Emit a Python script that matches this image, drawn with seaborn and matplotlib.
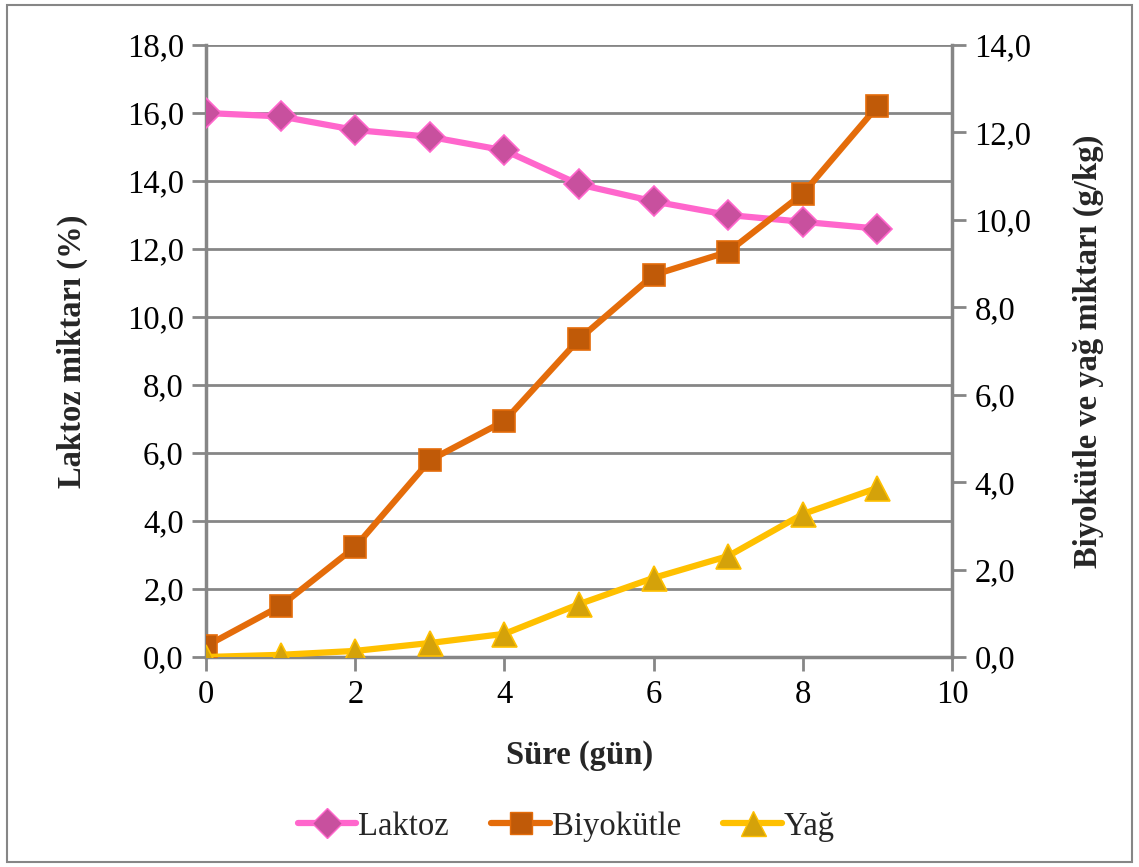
import matplotlib
matplotlib.use("Agg")
import matplotlib.pyplot as plt
import seaborn as sns
import pandas as pd
from matplotlib.ticker import FuncFormatter, MultipleLocator
from matplotlib.patches import Rectangle
from matplotlib.lines import Line2D

days = [0, 1, 2, 3, 4, 5, 6, 7, 8, 9]
laktoz = [16.0, 15.9, 15.5, 15.3, 14.9, 13.9, 13.4, 13.0, 12.8, 12.6]
biyokutle = [0.25, 1.17, 2.52, 4.5, 5.4, 7.27, 8.74, 9.27, 10.6, 12.6]
yag = [0.0, 0.05, 0.14, 0.32, 0.53, 1.21, 1.81, 2.31, 3.27, 3.87]

sns.set_theme(style="white")
plt.rcParams['font.family'] = 'serif'
plt.rcParams['font.serif'] = ['Liberation Serif', 'DejaVu Serif']

FONT = 'Liberation Serif'
FS = 23.5
GRAY = '#868686'
c_lak, c_lak_m = '#FF66CC', '#C8509E'
c_bio, c_bio_m = '#E46C0A', '#C05A08'
c_yag, c_yag_m = '#FFC000', '#D4A20A'

fig = plt.figure(figsize=(11.39, 8.67), dpi=100)
ax = fig.add_axes([0.1809, 0.2422, 0.6550, 0.7059])
ax2 = ax.twinx()

df = pd.DataFrame({'day': days, 'laktoz': laktoz, 'bio': biyokutle, 'yag': yag})

sns.lineplot(data=df, x='day', y='laktoz', ax=ax, color=c_lak, lw=4.5,
             marker='D', markersize=15, markerfacecolor=c_lak_m,
             markeredgecolor=c_lak, markeredgewidth=1.2, zorder=3)
sns.lineplot(data=df, x='day', y='bio', ax=ax2, color=c_bio, lw=4.5,
             marker='s', markersize=16, markerfacecolor=c_bio_m,
             markeredgecolor=c_bio, markeredgewidth=1.2, zorder=3)
sns.lineplot(data=df, x='day', y='yag', ax=ax2, color=c_yag, lw=4.5,
             marker='^', markersize=18, markerfacecolor=c_yag_m,
             markeredgecolor=c_yag, markeredgewidth=1.2, zorder=3)

fmt = FuncFormatter(lambda v, p: f"{v:.1f}".replace('.', ','))
ax.set_xlim(0, 10)
ax.set_ylim(0, 18)
ax2.set_ylim(0, 14)
ax.xaxis.set_major_locator(MultipleLocator(2))
ax.yaxis.set_major_locator(MultipleLocator(2))
ax2.yaxis.set_major_locator(MultipleLocator(2))
ax.yaxis.set_major_formatter(fmt)
ax2.yaxis.set_major_formatter(fmt)
ax.xaxis.set_major_formatter(FuncFormatter(lambda v, p: f"{int(v)}"))

ax.grid(axis='y', color=GRAY, lw=2)
ax.set_axisbelow(True)
ax2.grid(False)

for a in (ax, ax2):
    for s in a.spines.values():
        s.set_visible(False)
ax.spines['left'].set_visible(True)
ax.spines['bottom'].set_visible(True)
ax2.spines['right'].set_visible(True)
for s in (ax.spines['left'], ax.spines['bottom'], ax2.spines['right']):
    s.set_color(GRAY)
    s.set_linewidth(2.5)

ax.tick_params(axis='both', direction='out', length=10, width=2, color=GRAY,
               labelsize=FS, labelcolor='black', left=True, bottom=True, pad=6)
ax2.tick_params(axis='y', direction='out', length=10, width=2, color=GRAY,
                labelsize=FS, labelcolor='black', right=True, pad=6)
for lab in ax.get_xticklabels() + ax.get_yticklabels() + ax2.get_yticklabels():
    lab.set_fontfamily(FONT)

ax.set_xlabel('Süre (gün)', fontsize=FS, fontweight='bold', labelpad=22, fontfamily=FONT)
ax.set_ylabel('Laktoz miktarı (%)', fontsize=FS, fontweight='bold', labelpad=28, fontfamily=FONT)
ax2.set_ylabel('Biyokütle ve yağ miktarı (g/kg)', fontsize=FS, fontweight='bold',
               labelpad=30, fontfamily=FONT)

handles = [
    Line2D([], [], color=c_lak, lw=4.5, marker='D', markersize=15,
           markerfacecolor=c_lak_m, markeredgecolor=c_lak),
    Line2D([], [], color=c_bio, lw=4.5, marker='s', markersize=16,
           markerfacecolor=c_bio_m, markeredgecolor=c_bio),
    Line2D([], [], color=c_yag, lw=4.5, marker='^', markersize=18,
           markerfacecolor=c_yag_m, markeredgecolor=c_yag),
]
fig.legend(handles, ['Laktoz', 'Biyokütle', 'Yağ'], loc='center',
           bbox_to_anchor=(0.497, 0.047), ncol=3, frameon=False,
           prop={'family': FONT, 'size': FS},
           handlelength=1.8, handletextpad=0.05, columnspacing=1.3)

fig.patches.append(Rectangle((0.006, 0.006), 0.988, 0.988, transform=fig.transFigure,
                             fill=False, edgecolor=GRAY, lw=1.5))

fig.savefig('out.png', dpi=100)
